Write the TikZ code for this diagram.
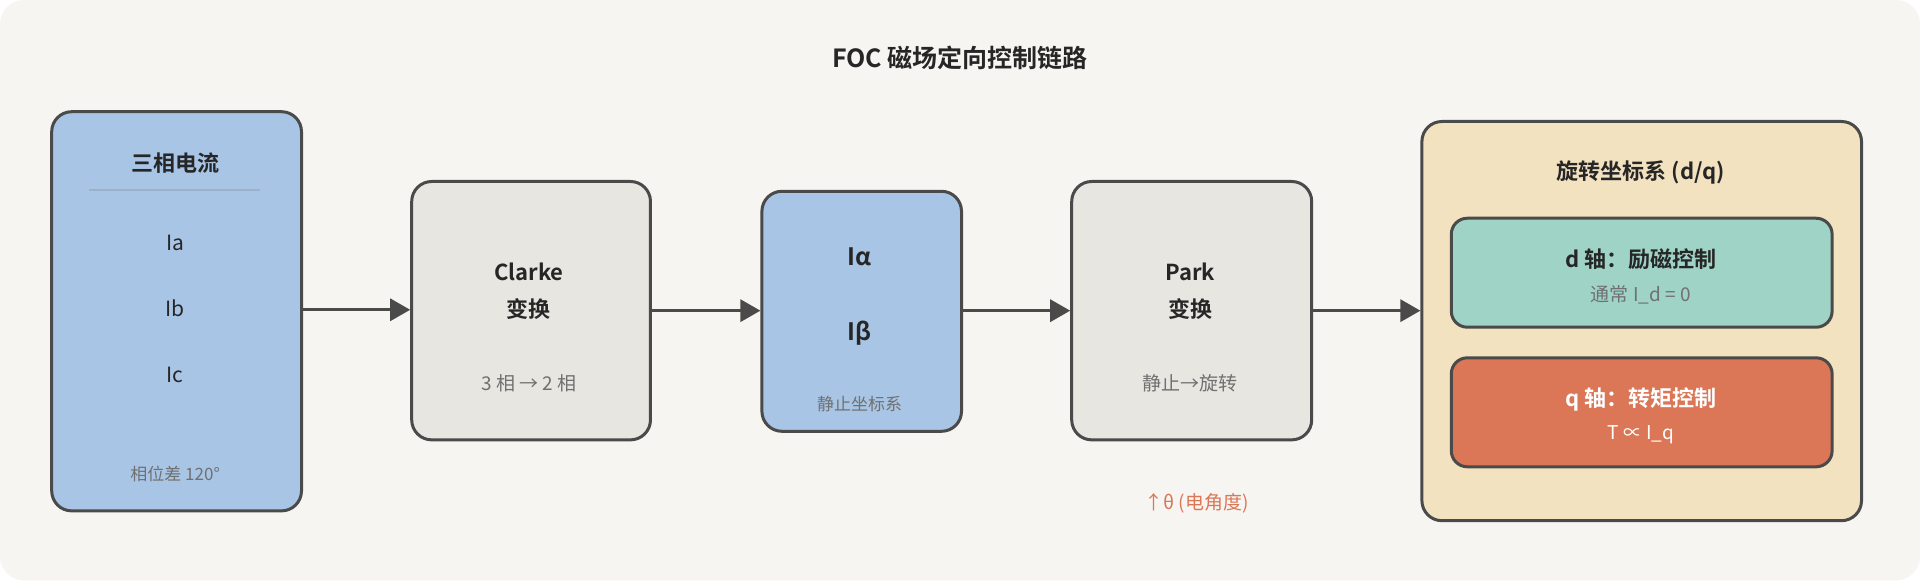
\documentclass[tikz,border=0pt]{standalone}
\usepackage{fontspec}
\setmainfont{Noto Sans CJK SC}[BoldFont={* Bold}]
\usetikzlibrary{positioning,arrows.meta}
\definecolor{bgpanel}{HTML}{F7F5F1}
\definecolor{edgegray}{HTML}{4A4A4A}
\definecolor{phaseblue}{HTML}{A8C5E5}
\definecolor{transgray}{HTML}{E8E6E1}
\definecolor{dqsand}{HTML}{F3E2C0}
\definecolor{dgreen}{HTML}{9ED3C6}
\definecolor{qorange}{HTML}{DB7757}
\definecolor{subgray}{HTML}{707070}
\begin{document}
\begin{tikzpicture}[
    x=0.612pt, y=-0.612pt,
    block/.style={
        draw=edgegray,
        line width=1.5pt,
        rounded corners=10pt,
        anchor=north west,
        inner sep=0pt,
        },
    head/.style={font=\bfseries\fontsize{11}{13}\selectfont, text=black!85},
    body/.style={font=\fontsize{10.5}{12}\selectfont, text=black!85},
    note/.style={font=\fontsize{8.5}{10}\selectfont, text=subgray},
    flow/.style={-{Triangle[length=10pt,width=11pt]}, draw=edgegray, line width=1.6pt},
]

\useasboundingbox (0,0) rectangle (1568,474);
\fill[bgpanel, rounded corners=12pt] (0,0) rectangle (1568,474);

\node[head, font=\bfseries\fontsize{12.5}{14}\selectfont] (title) at (784,47) {FOC 磁场定向控制链路};

% blocks
\node[block, fill=phaseblue, minimum width={204*0.612pt}, minimum height={326*0.612pt}] (phase) at (41,90) {};
\node[block, fill=transgray, minimum width={195*0.612pt}, minimum height={211*0.612pt}] (clarke) at (335,147) {};
\node[block, fill=phaseblue, minimum width={163*0.612pt}, minimum height={196*0.612pt}] (ab) at (621,155) {};
\node[block, fill=transgray, minimum width={196*0.612pt}, minimum height={211*0.612pt}] (park) at (874,147) {};
\node[block, fill=dqsand, minimum width={359*0.612pt}, minimum height={326*0.612pt}] (dq) at (1160,98) {};
\node[block, fill=dgreen, rounded corners=8pt, minimum width={311*0.612pt}, minimum height={89*0.612pt}] (daxis) at (1184,177) {};
\node[block, fill=qorange, rounded corners=8pt, minimum width={311*0.612pt}, minimum height={89*0.612pt}] (qaxis) at (1184,291) {};

% labels
\node[head] (phasetitle) at (143,133) {三相电流};
\draw[phaseblue!70!gray, line width=0.8pt] (73,155) -- (212,155);
\node[body] (ia) at (143,198) {Ia};
\node[body] (ib) at (143,252) {Ib};
\node[body] (ic) at (143,306) {Ic};
\node[note] (phasenote) at (143,387) {相位差 120°};

\node[head] (clarke1) at (432,222) {Clarke};
\node[head] (clarke2) at (432,252) {变换};
\node[note, font=\fontsize{9.5}{11}\selectfont] (clarke3) at (432,313) {3 相 → 2 相};

\node[head, font=\bfseries\fontsize{12}{14}\selectfont] (ialpha) at (702,210) {Iα};
\node[head, font=\bfseries\fontsize{12}{14}\selectfont] (ibeta) at (702,272) {Iβ};
\node[note] (abnote) at (702,330) {静止坐标系};

\node[head] (park1) at (972,222) {Park};
\node[head] (park2) at (972,252) {变换};
\node[note, font=\fontsize{9.5}{11}\selectfont] (park3) at (972,313) {静止→旋转};
\node[note, font=\fontsize{9.5}{11}\selectfont, text=qorange] (theta) at (977,411) {↑θ (电角度)};

\node[head] (dqtitle) at (1340,141) {旋转坐标系 (d/q)};
\node[head] (dtext) at (1340,212) {d 轴：励磁控制};
\node[note, font=\fontsize{9.5}{11}\selectfont] (dnote) at (1340,241) {通常 I\_d = 0};
\node[head, text=white] (qtext) at (1340,326) {q 轴：转矩控制};
\node[note, font=\fontsize{9.5}{11}\selectfont, text=white] (qnote) at (1340,355) {T ∝ I\_q};

% arrows
\draw[flow] (phase.east |- 0,253) -- (clarke.west |- 0,253);
\draw[flow] (clarke.east) -- (ab.west |- clarke.east);
\draw[flow] (ab.east |- clarke.east) -- (park.west);
\draw[flow] (park.east) -- (dq.west |- park.east);

\end{tikzpicture}
\end{document}
